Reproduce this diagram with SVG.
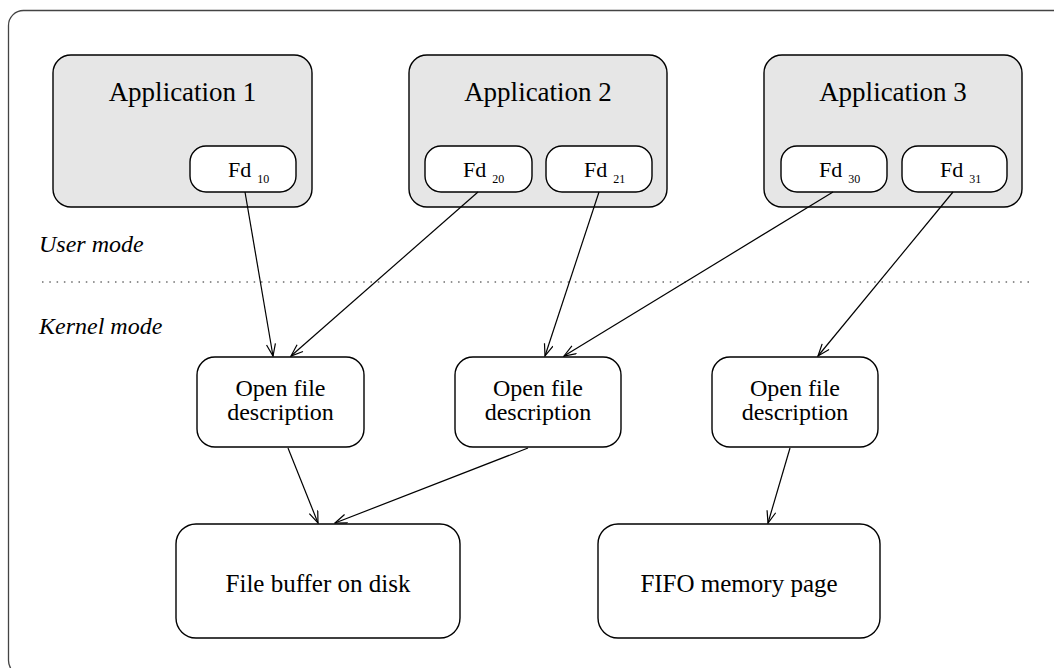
<svg xmlns="http://www.w3.org/2000/svg" width="1054" height="668" viewBox="0 0 1054 668">
<style>
.frame{fill:#fff;stroke:#444;stroke-width:1.3}
.app{fill:#e6e6e6;stroke:#000;stroke-width:1.4}
.box{fill:#fff;stroke:#000;stroke-width:1.4}
.t{font-family:"Liberation Serif","Times New Roman",serif;fill:#000}
.lbl{font-family:"Liberation Serif","Times New Roman",serif;font-style:italic;font-size:24px;fill:#000}
.edge{stroke:#000;stroke-width:1.2;fill:none;marker-end:url(#arr)}
</style>
<defs>
<marker id="arr" markerWidth="14" markerHeight="12" refX="13" refY="5" orient="auto" markerUnits="userSpaceOnUse">
<path d="M1,0.5 L13,5 L1,9.5" fill="none" stroke="#000" stroke-width="1.2"/>
</marker>
</defs>
<rect class="frame" x="8.5" y="10.5" width="1060" height="665" rx="15"/>
<text class="lbl" x="39" y="252">User mode</text>
<text class="lbl" x="39" y="334">Kernel mode</text>
<line x1="42" y1="282" x2="1032" y2="282" stroke="#222" stroke-width="1" stroke-dasharray="1.5 5.8"/>

<g id="app1">
<rect class="app" x="53" y="55" width="259" height="152" rx="18"/>
<text class="t" x="182.5" y="101" font-size="27" text-anchor="middle">Application 1</text>
</g>
<g id="fd10">
<rect class="box" x="190" y="146" width="106" height="46" rx="16"/>
<text class="t" x="228" y="177" font-size="22">Fd<tspan dx="6" dy="6" font-size="12">10</tspan></text>
</g>
<g id="app2">
<rect class="app" x="409" y="55" width="258" height="152" rx="18"/>
<text class="t" x="538" y="101" font-size="27" text-anchor="middle">Application 2</text>
</g>
<g id="fd20">
<rect class="box" x="425" y="146" width="107" height="46" rx="16"/>
<text class="t" x="463" y="177" font-size="22">Fd<tspan dx="6" dy="6" font-size="12">20</tspan></text>
</g>
<g id="fd21">
<rect class="box" x="546" y="146" width="106" height="46" rx="16"/>
<text class="t" x="584" y="177" font-size="22">Fd<tspan dx="6" dy="6" font-size="12">21</tspan></text>
</g>
<g id="app3">
<rect class="app" x="764" y="55" width="258" height="152" rx="18"/>
<text class="t" x="893" y="101" font-size="27" text-anchor="middle">Application 3</text>
</g>
<g id="fd30">
<rect class="box" x="781" y="146" width="106" height="46" rx="16"/>
<text class="t" x="819" y="177" font-size="22">Fd<tspan dx="6" dy="6" font-size="12">30</tspan></text>
</g>
<g id="fd31">
<rect class="box" x="902" y="146" width="105" height="46" rx="16"/>
<text class="t" x="940" y="177" font-size="22">Fd<tspan dx="6" dy="6" font-size="12">31</tspan></text>
</g>

<g id="ofd1">
<rect class="box" x="197" y="357" width="167" height="90" rx="18"/>
<text class="t" x="280.5" y="396" font-size="24" text-anchor="middle">Open file</text>
<text class="t" x="280.5" y="420" font-size="24" text-anchor="middle">description</text>
</g>
<g id="ofd2">
<rect class="box" x="455" y="357" width="166" height="90" rx="18"/>
<text class="t" x="538" y="396" font-size="24" text-anchor="middle">Open file</text>
<text class="t" x="538" y="420" font-size="24" text-anchor="middle">description</text>
</g>
<g id="ofd3">
<rect class="box" x="712" y="357" width="166" height="90" rx="18"/>
<text class="t" x="795" y="396" font-size="24" text-anchor="middle">Open file</text>
<text class="t" x="795" y="420" font-size="24" text-anchor="middle">description</text>
</g>
<g id="filebuf">
<rect class="box" x="176" y="524" width="284" height="114" rx="20"/>
<text class="t" x="318" y="592" font-size="25" text-anchor="middle">File buffer on disk</text>
</g>
<g id="fifo">
<rect class="box" x="598" y="524" width="282" height="114" rx="20"/>
<text class="t" x="739" y="592" font-size="25" text-anchor="middle">FIFO memory page</text>
</g>

<g id="connectors">
<line class="edge" x1="245" y1="192" x2="273" y2="356"/>
<line class="edge" x1="478" y1="192" x2="291" y2="356"/>
<line class="edge" x1="599" y1="192" x2="545" y2="356"/>
<line class="edge" x1="833" y1="192" x2="564" y2="356"/>
<line class="edge" x1="953" y1="192" x2="818" y2="356"/>
<line class="edge" x1="288" y1="448" x2="318" y2="523"/>
<line class="edge" x1="528" y1="448" x2="335" y2="523"/>
<line class="edge" x1="790" y1="448" x2="768" y2="523"/>
</g>
</svg>
